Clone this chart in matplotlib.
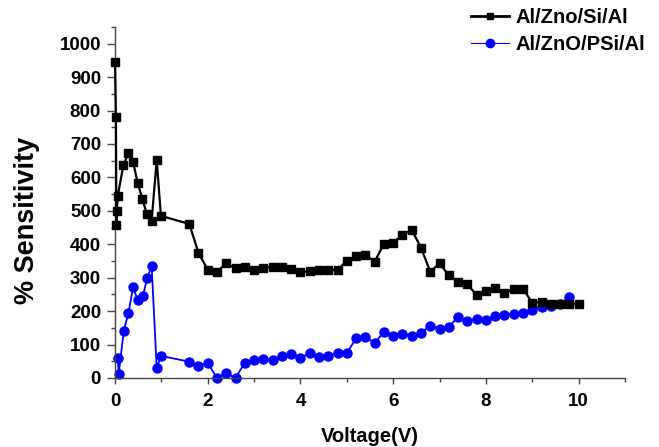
import matplotlib
matplotlib.use("Agg")
import matplotlib.pyplot as plt
from matplotlib.ticker import MultipleLocator

plt.rcParams['font.family'] = ['Liberation Sans', 'DejaVu Sans']
plt.rcParams['font.weight'] = 'bold'

# Al/Zno/Si/Al (black squares)
black_x = [0, 0.02, 0.03, 0.04, 0.06, 0.18, 0.29, 0.39, 0.49, 0.59, 0.69, 0.79, 0.9, 0.99,
           1.6, 1.8, 2.0, 2.2, 2.4, 2.6, 2.8, 3.0, 3.2, 3.4, 3.6, 3.8, 4.0, 4.2, 4.4, 4.6, 4.8,
           5.0, 5.2, 5.4, 5.6, 5.8, 6.0, 6.2, 6.4, 6.6, 6.8, 7.0, 7.2, 7.4, 7.6, 7.8, 8.0, 8.2,
           8.4, 8.6, 8.8, 9.0, 9.2, 9.4, 9.6, 9.8, 10.0]
black_y = [945, 780, 458, 501, 545, 636, 673, 646, 583, 535, 490, 471, 652, 485,
           461, 375, 323, 318, 343, 328, 331, 323, 328, 333, 333, 326, 316, 319, 323, 323, 323,
           351, 365, 368, 348, 401, 405, 428, 443, 390, 318, 343, 307, 288, 280, 248, 261, 270,
           255, 266, 267, 225, 228, 222, 222, 222, 222]

# Al/ZnO/PSi/Al (blue circles)
blue_x = [0.06, 0.08, 0.19, 0.29, 0.39, 0.49, 0.6, 0.7, 0.79, 0.9, 0.99,
          1.6, 1.8, 2.0, 2.2, 2.4, 2.6, 2.8, 3.0, 3.2, 3.4, 3.6, 3.8, 4.0, 4.2, 4.4, 4.6, 4.8,
          5.0, 5.2, 5.4, 5.6, 5.8, 6.0, 6.2, 6.4, 6.6, 6.8, 7.0, 7.2, 7.4, 7.6, 7.8, 8.0, 8.2,
          8.4, 8.6, 8.8, 9.0, 9.2, 9.4, 9.6, 9.8]
blue_y = [60, 13, 142, 195, 271, 233, 246, 300, 336, 29, 66,
          49, 36, 45, 0, 14, 0, 46, 54, 57, 54, 66, 71, 59, 76, 62, 66, 74,
          74, 119, 124, 104, 139, 126, 131, 127, 136, 156, 148, 154, 182, 171, 177, 174, 184,
          189, 191, 194, 204, 213, 216, 222, 242]

fig = plt.figure(figsize=(6.59, 4.47), dpi=100)
ax = fig.add_axes([115/659, 1-378/447, 510/659, 351/447])

l1, = ax.plot(black_x, black_y, color='black', lw=1.6, marker='s', ms=5.5,
              label='Al/Zno/Si/Al', zorder=3, clip_on=False)
l2, = ax.plot(blue_x, blue_y, color='#0000ff', lw=1.3, marker='o', ms=6.5,
              label='Al/ZnO/PSi/Al', zorder=2, clip_on=False)

ax.set_xlim(0, 11)
ax.set_ylim(0, 1050)
ax.xaxis.set_major_locator(MultipleLocator(2))
ax.xaxis.set_minor_locator(MultipleLocator(1))
ax.yaxis.set_major_locator(MultipleLocator(100))
ax.yaxis.set_minor_locator(MultipleLocator(50))
ax.set_xticks([0, 2, 4, 6, 8, 10])
ax.set_yticks(range(0, 1001, 100))

for s in ['top', 'right']:
    ax.spines[s].set_visible(False)
for s in ['left', 'bottom']:
    ax.spines[s].set_linewidth(1.0)
    ax.spines[s].set_color('#444444')

ax.tick_params(which='major', direction='out', width=1, labelsize=13.5, colors='#444444',
               labelcolor='black')
ax.tick_params(axis='x', which='major', length=4, pad=6.5)
ax.tick_params(axis='y', which='major', length=6, pad=4)
ax.tick_params(which='minor', direction='out', length=3, width=1, colors='#444444')
for lab in ax.get_xticklabels() + ax.get_yticklabels():
    lab.set_fontweight('bold')

ax.set_xlabel('Voltage(V)', fontsize=14.5, fontweight='bold')
ax.set_ylabel('% Sensitivity', fontsize=19.5, fontweight='bold')
ax.xaxis.set_label_coords(0.5, -0.14)
ax.yaxis.set_label_coords(-0.147, 0.45)

leg = fig.legend(handles=[l1, l2], loc='upper left', bbox_to_anchor=(471/659, 1-8/447),
                 frameon=False, fontsize=14.5, handlelength=1.9, handletextpad=0.3,
                 labelspacing=0.4, borderaxespad=0, borderpad=0)
leg.legend_handles[0].set_markersize(5)
leg.legend_handles[0].set_linewidth(2.0)
leg.legend_handles[1].set_markersize(6)
leg.legend_handles[1].set_linewidth(0.8)
for t in leg.get_texts():
    t.set_fontweight('bold')

fig.savefig('out.png', dpi=100)
